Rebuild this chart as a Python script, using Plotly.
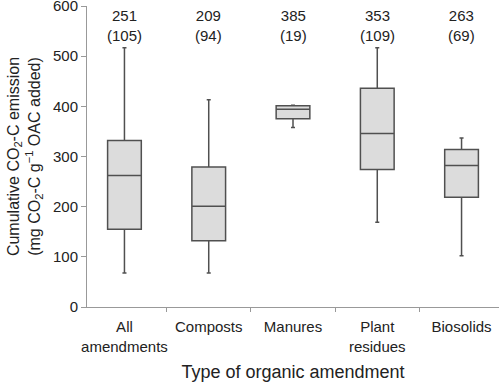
import plotly.graph_objects as go

categories = ["All<br>amendments", "Composts", "Manures", "Plant<br>residues", "Biosolids"]
lower_whisker = [68, 68, 358, 169, 102]
q1_values = [155, 132, 375, 274, 219]
median_values = [262, 201, 394, 346, 282]
q3_values = [332, 279, 401, 436, 314]
upper_whisker = [517, 413, 402, 517, 337]
mean_labels = ["251", "209", "385", "353", "263"]
n_labels = ["(105)", "(94)", "(19)", "(109)", "(69)"]

FONT = "Liberation Sans, Arial, Helvetica, sans-serif"
fig = go.Figure()
fig.add_trace(go.Box(
    x=categories,
    q1=q1_values, median=median_values, q3=q3_values,
    lowerfence=lower_whisker, upperfence=upper_whisker,
    fillcolor="#dcdcdc",
    line=dict(color="#505050", width=1.5),
    whiskerwidth=0.12,
    width=0.4,
    boxpoints=False,
    showlegend=False,
    hoverinfo="skip",
))

for c, m, n in zip(categories, mean_labels, n_labels):
    fig.add_annotation(x=c, y=562, text=f"{m}<br>{n}", showarrow=False,
                       xref="x", yref="y", yanchor="middle",
                       font=dict(family=FONT, size=15, color="#222222"))

fig.update_layout(
    width=500, height=382,
    margin=dict(l=87, r=1, t=6, b=75, autoexpand=False),
    plot_bgcolor="white", paper_bgcolor="white",
    font=dict(family=FONT, size=15, color="#222222"),
)
fig.update_xaxes(
    showline=True, linecolor="#999999", linewidth=1,
    ticks="outside", tickson="boundaries", ticklen=4, tickcolor="#999999",
    showgrid=False, zeroline=False, tickangle=0, automargin=False,
    ticklabelstandoff=6,
    tickfont=dict(size=15),
    title=dict(text="Type of organic amendment", font=dict(size=18), standoff=12),
)
fig.update_yaxes(
    range=[0, 600], tickvals=[0, 100, 200, 300, 400, 500, 600],
    showline=True, linecolor="#999999", linewidth=1,
    ticks="outside", ticklen=5, tickcolor="#999999",
    showgrid=False, zeroline=False, automargin=False,
    ticklabeloverflow="allow",
    tickfont=dict(size=15),
    title=dict(text="Cumulative CO<sub>2</sub>-C emission<br>(mg CO<sub>2</sub>-C g<sup>\u22121</sup> OAC added)",
               font=dict(size=16), standoff=8),
)
fig.write_html("out.html", config={"displayModeBar": False},
               post_script="document.body.style.margin='0';")
